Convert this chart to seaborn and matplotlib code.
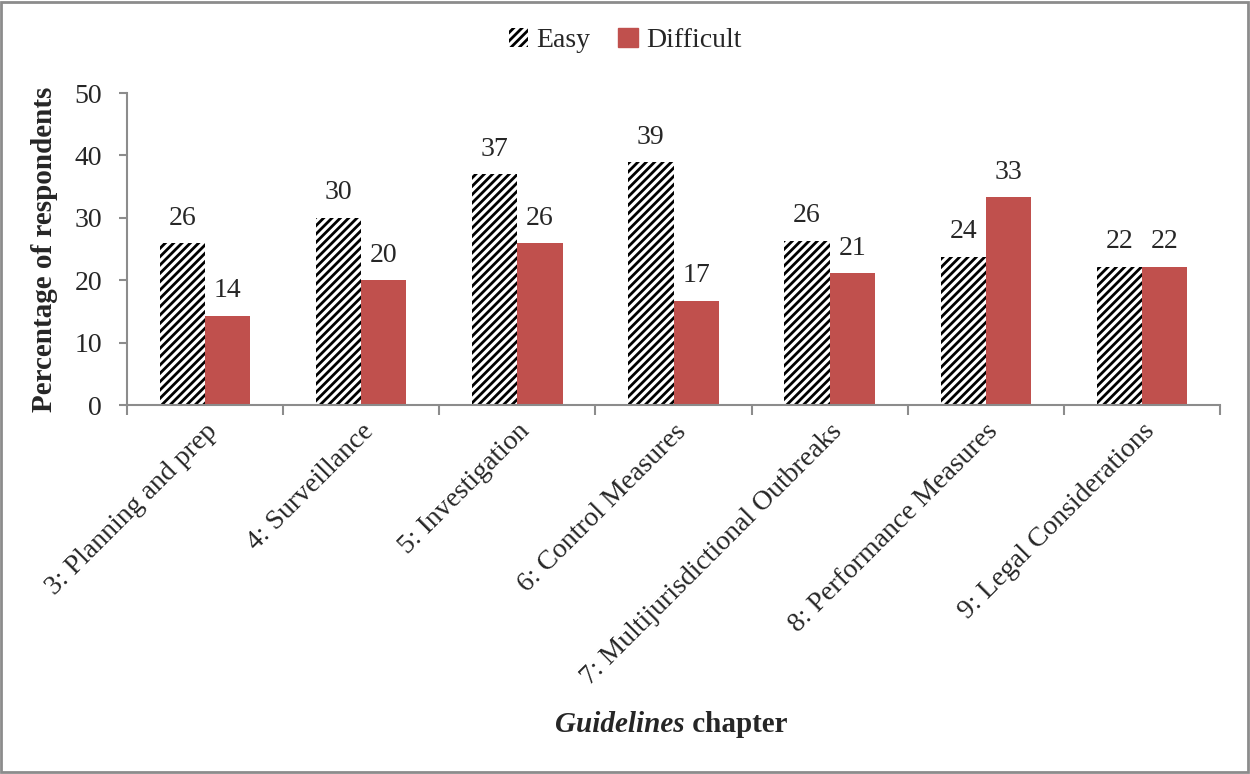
import pandas as pd
import numpy as np
import matplotlib
matplotlib.use("Agg")
import matplotlib.pyplot as plt
from matplotlib.patches import Patch, Rectangle
import seaborn as sns

# ---------------------------------------------------------
# data
# ---------------------------------------------------------
chapters = [
    "3: Planning and prep",
    "4: Surveillance",
    "5: Investigation",
    "6: Control Measures",
    "7: Multijurisdictional Outbreaks",
    "8: Performance Measures",
    "9: Legal Considerations",
]
easy = [25.9, 30.0, 37.0, 38.9, 26.3, 23.8, 22.2]
difficult = [14.3, 20.0, 25.9, 16.7, 21.1, 33.3, 22.2]
groups = ["Easy", "Difficult"]

df = pd.DataFrame({
    "chapter": chapters * 2,
    "group": [groups[0]] * len(chapters) + [groups[1]] * len(chapters),
    "pct": easy + difficult,
})

red = "#C0504D"
grey = "#8C8C8C"
fs = 20

# ---------------------------------------------------------
# plot
# ---------------------------------------------------------
sns.set_style("white")
plt.rcParams["font.family"] = ["Liberation Serif", "DejaVu Serif"]
plt.rcParams["hatch.linewidth"] = 2.0

fig = plt.figure(figsize=(12.5, 7.74), dpi=100)
ax = fig.add_axes([0.1016, 0.4767, 0.8744, 0.4031])

sns.barplot(data=df, x="chapter", y="pct", hue="group", order=chapters,
            hue_order=groups, palette=["white", red], width=0.58,
            saturation=1, linewidth=0, legend=False, ax=ax)

# hatch the "Easy" bars
for bar in ax.containers[0]:
    bar.set_hatch("////")
    bar.set_edgecolor("black")
    bar.set_linewidth(0)

for cont in ax.containers:
    ax.bar_label(cont, fmt="%.0f", padding=9, fontsize=fs)

ax.set_ylim(0, 50)
ax.set_yticks(range(0, 51, 10))
ax.set_xlim(-0.5, len(chapters) - 0.5)

for s in ["top", "right"]:
    ax.spines[s].set_visible(False)
for s in ["left", "bottom"]:
    ax.spines[s].set_color(grey)
    ax.spines[s].set_linewidth(1.5)

ax.tick_params(axis="y", which="major", direction="out", length=6, width=1.5,
               color=grey, labelsize=fs, left=True, pad=12)
ax.set_xticks(np.arange(-0.5, len(chapters)), minor=True)
ax.tick_params(axis="x", which="minor", direction="out", length=7, width=1.5,
               color=grey, bottom=True)
ax.tick_params(axis="x", which="major", length=0, pad=10)
ax.set_xticks(range(len(chapters)))
ax.set_xticklabels(chapters, rotation=45, ha="right", rotation_mode="anchor",
                   fontsize=fs)

ax.set_xlabel("")
ax.set_ylabel("Percentage of respondents", fontsize=21, fontweight="bold",
              labelpad=12)

# x axis title with italic first word
t1 = fig.text(0.548, 0.046, "Guidelines", fontsize=21, fontweight="bold",
              fontstyle="italic", ha="right", va="bottom")
ax.annotate(" chapter", xy=(1, 0), xycoords=t1, fontsize=21,
            fontweight="bold", ha="left", va="bottom", annotation_clip=False)

# legend
handles = [
    Patch(facecolor="white", edgecolor="black", hatch="////", linewidth=0,
          label="Easy"),
    Patch(facecolor=red, edgecolor=red, label="Difficult"),
]
fig.legend(handles=handles, loc="center", bbox_to_anchor=(0.5, 0.948),
           ncol=2, frameon=False, fontsize=fs, handlelength=0.7,
           handleheight=0.7, handletextpad=0.3, columnspacing=1.0)

# frame around the whole chart
fig.patches.append(Rectangle((0.001, 0.002), 0.997, 0.996,
                             transform=fig.transFigure, fill=False,
                             edgecolor=grey, linewidth=2))

fig.savefig("out.png", dpi=100)
